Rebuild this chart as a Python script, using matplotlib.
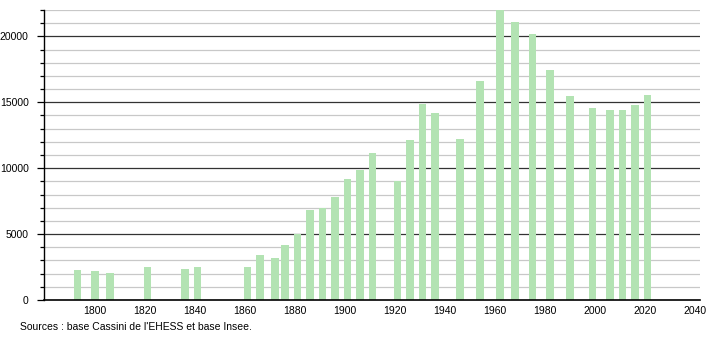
import matplotlib
matplotlib.use("Agg")
import matplotlib.pyplot as plt
from matplotlib.ticker import MultipleLocator

plt.rcParams['font.family'] = ['Liberation Sans', 'DejaVu Sans']

years = [1793, 1800, 1806, 1821, 1836, 1841, 1861, 1866, 1872, 1876, 1881, 1886,
         1891, 1896, 1901, 1906, 1911, 1921, 1926, 1931, 1936, 1946, 1954, 1962,
         1968, 1975, 1982, 1990, 1999, 2006, 2011, 2016, 2021]
population = [2280, 2210, 2080, 2540, 2380, 2540, 2540, 3420, 3220, 4190, 5030, 6800,
              6980, 7790, 9210, 9870, 11120, 9060, 12110, 14850, 14160, 12180, 16600, 22100,
              21070, 20180, 17430, 15460, 14540, 14390, 14390, 14770, 15530]
y_major_ticks = [0, 5000, 10000, 15000, 20000]
x_ticks = [1800, 1820, 1840, 1860, 1880, 1900, 1920, 1940, 1960, 1980, 2000, 2020, 2040]
source_text = "Sources : base Cassini de l'EHESS et base Insee."

fig = plt.figure(figsize=(7.1, 3.4), dpi=100)
ax = fig.add_axes([44/710, 1 - 300/340, (700 - 44)/710, (300 - 10)/340])

ax.set_xlim(1779.6, 2042)
ax.set_ylim(0, 22000)

# grid
for v in range(1000, 22001, 1000):
    if v % 5000 == 0:
        ax.axhline(v, color='#333333', lw=0.9, zorder=1)
    else:
        ax.axhline(v, color='#c8c8c8', lw=0.9, zorder=1)

ax.bar(years, population, width=3.1, color='#b3e3b3', zorder=2, align='center')

for s in ['top', 'right']:
    ax.spines[s].set_visible(False)
ax.spines['left'].set_color('black')
ax.spines['bottom'].set_color('black')
ax.spines['left'].set_linewidth(1.0)
ax.spines['bottom'].set_linewidth(1.2)
ax.spines['left'].set_zorder(3)
ax.spines['bottom'].set_zorder(3)

ax.set_yticks(y_major_ticks)
ax.set_yticklabels([str(v) for v in y_major_ticks])
ax.yaxis.set_minor_locator(MultipleLocator(1000))
ax.tick_params(axis='y', which='major', length=5, width=0.9, pad=6, labelsize=7.5, color='black')
ax.tick_params(axis='y', which='minor', length=3, width=0.9, color='black')

ax.set_xticks(x_ticks)
ax.set_xticklabels([str(v) for v in x_ticks])
ax.tick_params(axis='x', which='major', length=0, pad=4, labelsize=7.5)

fig.text(20/710, 1 - 327/340, source_text, fontsize=7.5, va='center', ha='left')

fig.savefig('out.png', dpi=100)
